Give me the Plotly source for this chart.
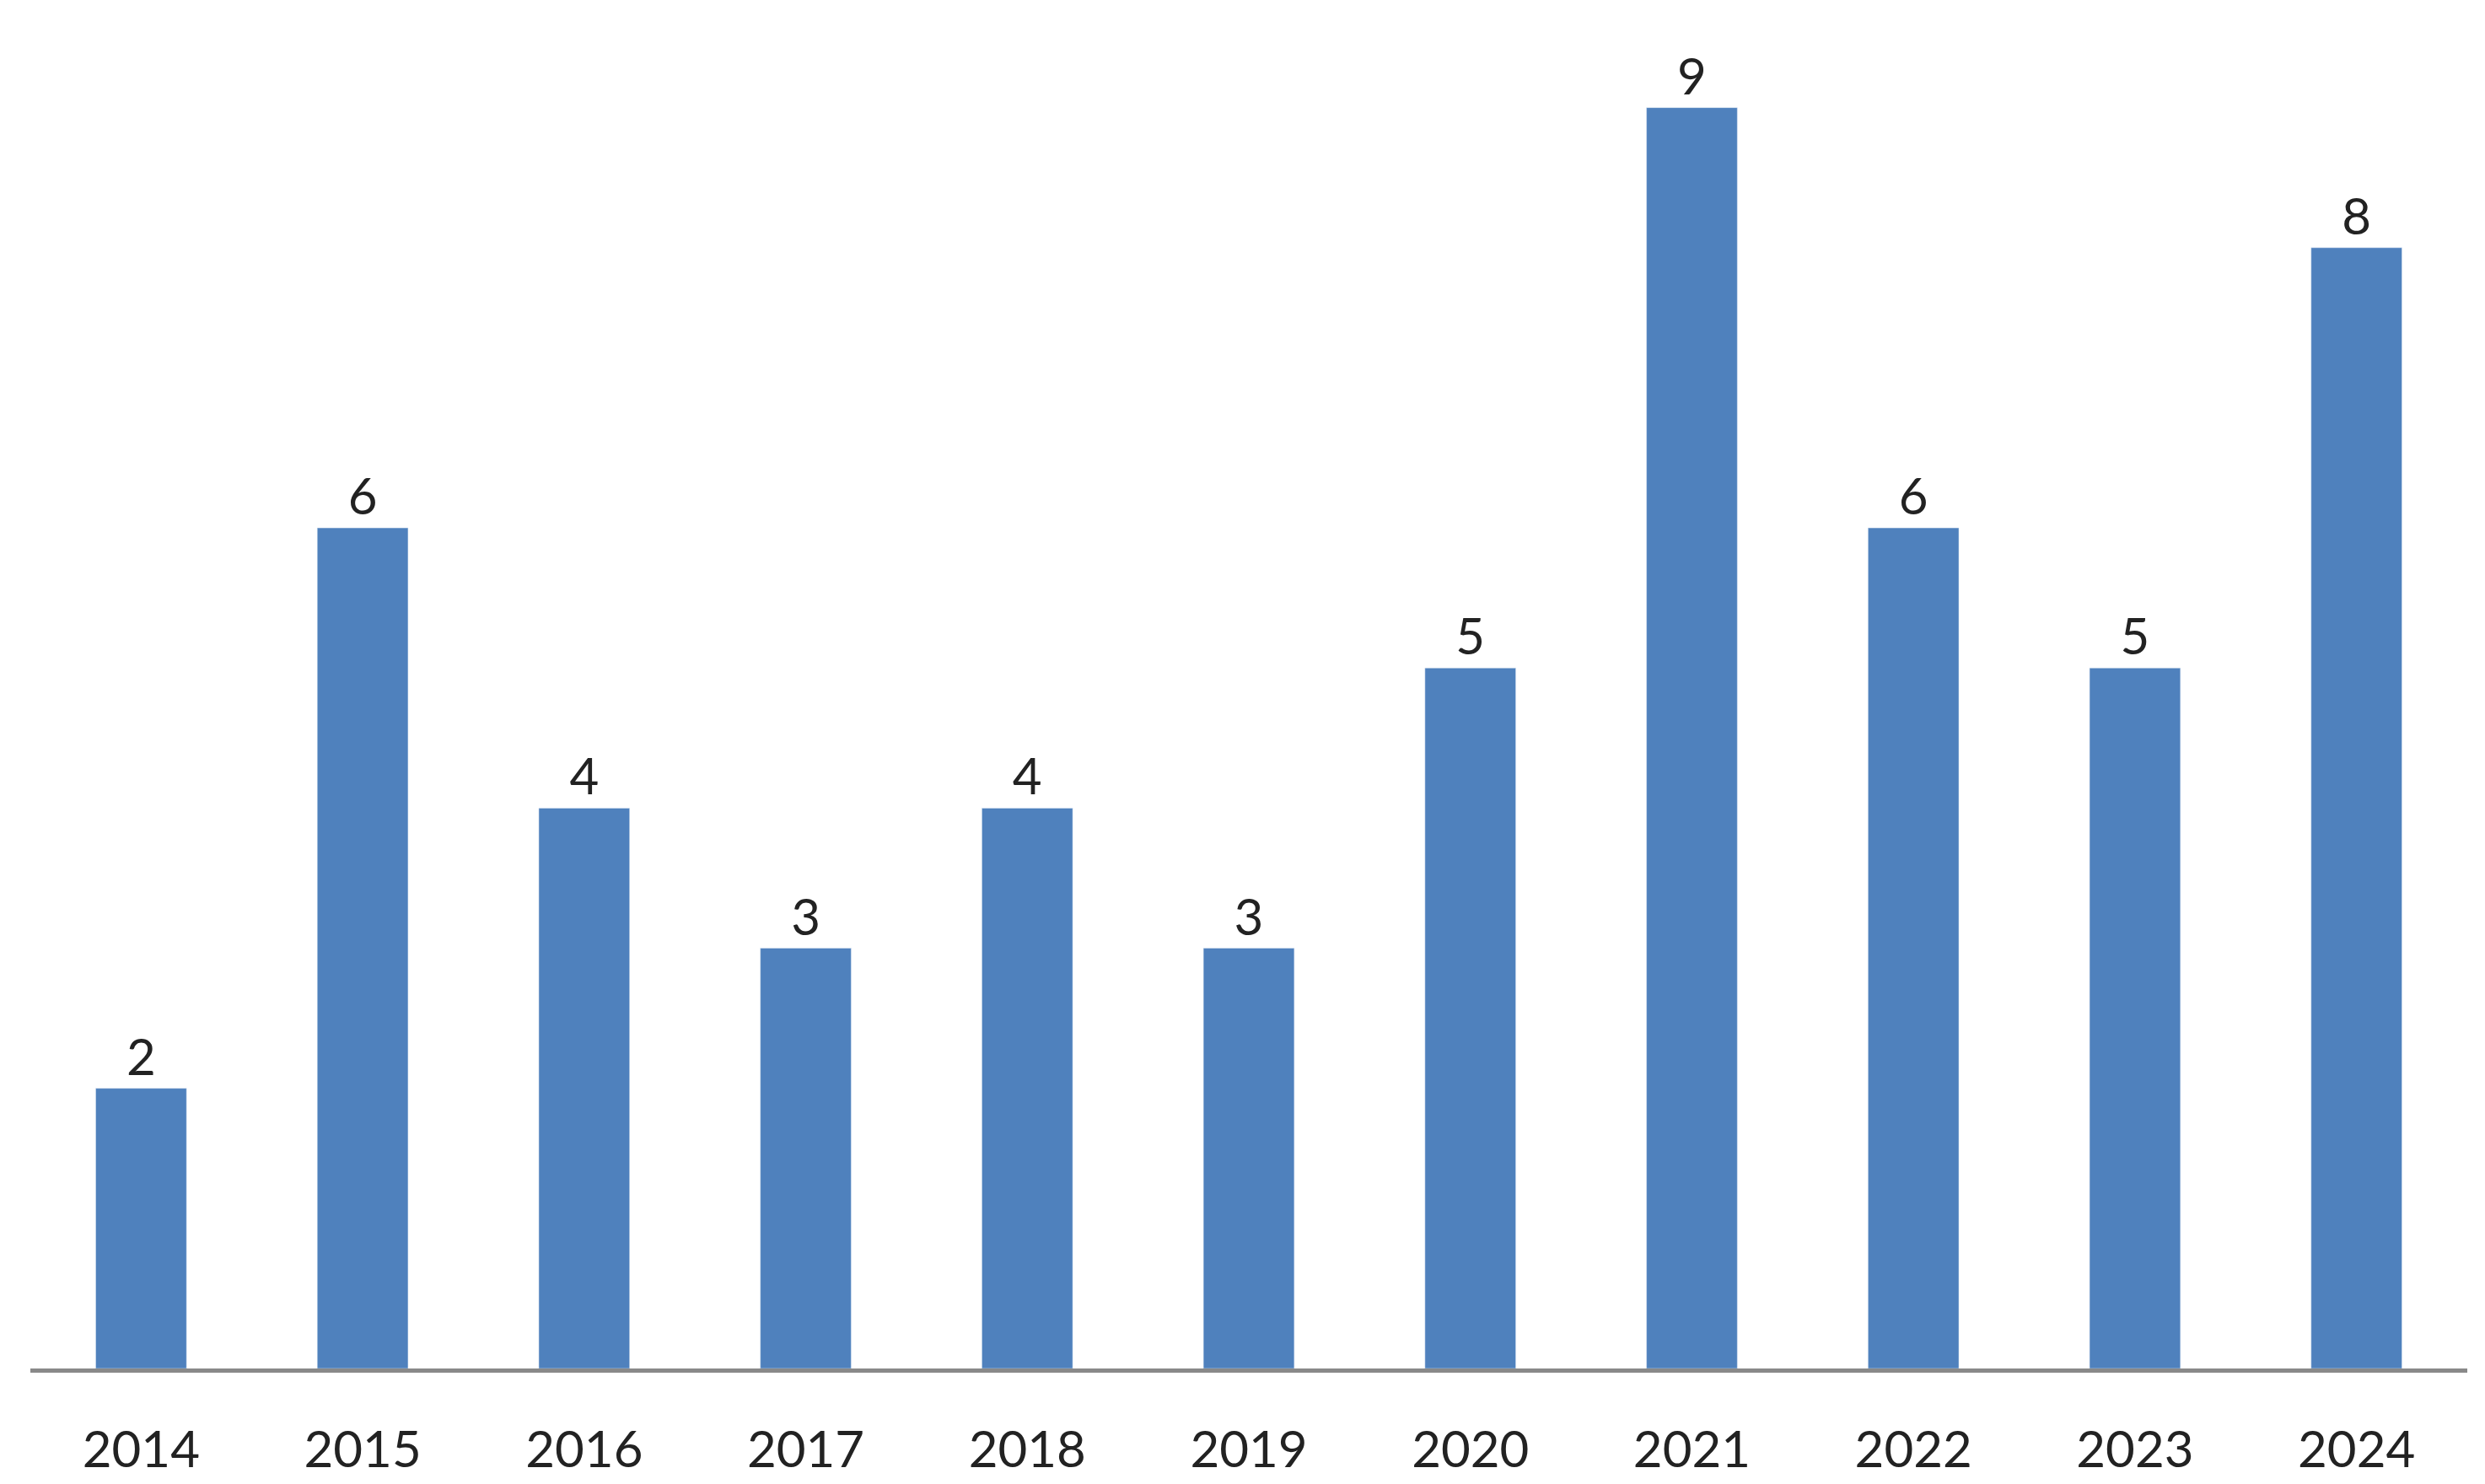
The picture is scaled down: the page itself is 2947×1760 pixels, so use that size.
import plotly.graph_objects as go

years = ["2014","2015","2016","2017","2018","2019","2020","2021","2022","2023","2024"]
counts = [2,6,4,3,4,3,5,9,6,5,8]

fig = go.Figure(go.Bar(x=years, y=counts, text=counts, textposition="outside",
                       marker_color="#4F81BD", cliponaxis=False,
                       textfont=dict(size=60, color="#222")))
fig.update_layout(width=2947, height=1760, margin=dict(l=28, r=29, t=0, b=145),
                  plot_bgcolor="white", paper_bgcolor="white", bargap=0.59,
                  font=dict(family="Lato, Open Sans, sans-serif", size=60, color="#222"),
                  showlegend=False)
fig.update_yaxes(range=[0, 9.72], visible=False)
fig.update_xaxes(showline=True, linecolor="#898989", linewidth=5, ticks="",
                 ticklabelstandoff=40, tickfont=dict(size=60))
fig.write_html("out.html")
